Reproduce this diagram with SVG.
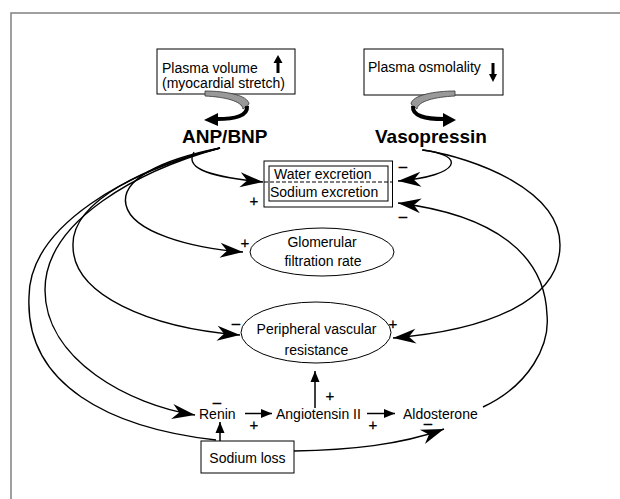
<svg xmlns="http://www.w3.org/2000/svg" width="620" height="499" viewBox="0 0 620 499">
<style>
text{font-family:"Liberation Sans",Arial,sans-serif;font-size:14px;fill:#000}
.b{font-weight:bold;font-size:19px}
.box{fill:#fff;stroke:#000;stroke-width:1}
.c{fill:none;stroke:#000;stroke-width:1.4}
.s{fill:none;stroke:#000;stroke-width:1.5}
.m{text-anchor:middle}
.g{font-size:15px;fill:#000;stroke:#000;stroke-width:0.3}
</style>
<defs>
<marker id="big" viewBox="-25 -9 27 18" markerWidth="27" markerHeight="18" refX="0" refY="0" orient="auto" markerUnits="userSpaceOnUse">
<path d="M0,0 L-23,-7.5 L-16,0 L-23,7.5 Z" fill="#000"/>
</marker>
<marker id="sm" viewBox="-12 -6 13 12" markerWidth="13" markerHeight="12" refX="0" refY="0" orient="auto" markerUnits="userSpaceOnUse">
<path d="M0,0 L-11,-4.5 L-11,4.5 Z" fill="#000"/>
</marker>
</defs>
<rect x="0" y="0" width="620" height="499" fill="#fff"/>
<rect x="11" y="13" width="700" height="600" fill="none" stroke="#808080" stroke-width="1.5"/>

<g id="plasma-volume">
<rect class="box" x="157" y="49" width="138" height="45"/>
<text x="162" y="72.5">Plasma volume</text>
<text x="162" y="87.5">(myocardial stretch)</text>
<rect x="276.5" y="62" width="3" height="11" fill="#000"/>
<path d="M273.5,63 L278,55 L282.5,63 Z" fill="#000"/>
</g>
<g id="plasma-osmolality">
<rect class="box" x="364" y="49" width="139" height="46"/>
<text x="368" y="72">Plasma osmolality</text>
<rect x="491.5" y="63" width="3" height="12" fill="#000"/>
<path d="M489,74 L497,74 L493,82 Z" fill="#000"/>
</g>
<g id="ribbon-left">
<path d="M205,91 C225,91 248,95 249,104 L243,109 C242,101 225,97 205,96 Z" fill="#999" stroke="#333" stroke-width="0.8"/>
<path d="M247,106 C248,116 235,119 217,119" fill="none" stroke="#000" stroke-width="4"/>
<path d="M218,113 L204,120 L218,126 Z" fill="#000"/>
</g>
<g id="ribbon-right">
<path d="M455,91 C435,91 412,95 411,104 L417,109 C418,101 435,97 455,96 Z" fill="#999" stroke="#333" stroke-width="0.8"/>
<path d="M413,106 C412,116 425,119 444,119" fill="none" stroke="#000" stroke-width="4"/>
<path d="M443,113 L456,120 L443,127 Z" fill="#000"/>
</g>
<g id="anp-bnp"><text class="b" x="182" y="143">ANP/BNP</text></g>
<g id="vasopressin"><text class="b" x="375" y="142.5">Vasopressin</text></g>
<g id="excretion">
<rect class="box" x="264" y="161" width="128.5" height="46"/>
<rect class="box" x="269" y="166" width="119" height="35" fill="none"/>
<line x1="264" y1="182" x2="392.5" y2="182" stroke="#000" stroke-width="1" stroke-dasharray="4,2"/>
<text x="274" y="179">Water excretion</text>
<text x="270" y="197">Sodium excretion</text>
</g>
<g id="gfr">
<ellipse class="box" cx="322" cy="252" rx="72" ry="24"/>
<text class="m" x="322" y="247">Glomerular</text>
<text class="m" x="323" y="266">filtration rate</text>
</g>
<g id="pvr">
<ellipse class="box" cx="316" cy="332.5" rx="75" ry="30.5"/>
<text class="m" x="316.5" y="334">Peripheral vascular</text>
<text class="m" x="316.5" y="355">resistance</text>
</g>
<g id="renin"><text x="199" y="419">Renin</text></g>
<g id="angiotensin"><text x="276" y="419">Angiotensin II</text></g>
<g id="aldosterone"><text x="403" y="419">Aldosterone</text></g>
<g id="sodium-loss">
<rect class="box" x="201" y="441" width="93" height="32"/>
<text class="m" x="247.5" y="463">Sodium loss</text>
</g>

<g id="connectors">
<path class="c" marker-end="url(#big)" d="M194,152 C186,166 200,176 263,182"/>
<path class="c" marker-end="url(#big)" d="M220,148 C160,160 120,180 126,205 C132,232 190,248 243,252"/>
<path class="c" marker-end="url(#big)" d="M220,148 C150,165 72,200 73,245 C72,295 150,328 240,335"/>
<path class="c" marker-end="url(#big)" d="M220,148 C140,170 45,220 45,290 C45,360 130,405 195,415"/>
<path class="c" d="M220,148 C130,170 29,225 29,297 C25,385 110,428 216,440"/>
<path class="c" marker-end="url(#big)" d="M422,150 C468,155 460,176 398,181"/>
<path class="c" marker-end="url(#big)" d="M423,150 C475,158 560,190 560,245 C560,300 490,330 393,338"/>
<path class="c" marker-end="url(#big)" d="M483,407 C530,385 550,345 547,315 C545,255 495,215 398,203"/>
<path class="c" marker-end="url(#big)" d="M294,451 C350,450 400,445 444,429"/>
<path class="s" marker-end="url(#sm)" d="M245,413.5 L272,413.5"/>
<path class="s" marker-end="url(#sm)" d="M367,413.5 L395,413.5"/>
<path class="s" marker-end="url(#sm)" d="M315,408 L315,371"/>
<path class="s" marker-end="url(#sm)" d="M220,441 L220,422"/>
</g>

<g id="signs">
<text class="m g" x="254" y="206">+</text>
<text class="m g" x="403" y="171">–</text>
<text class="m g" x="403" y="221">–</text>
<text class="m g" x="245" y="247.5">+</text>
<text class="m g" x="236" y="327.5">–</text>
<text class="m g" x="393" y="329">+</text>
<text class="m g" x="330" y="400.5">+</text>
<text class="m g" x="254" y="429.5">+</text>
<text class="m g" x="373" y="429.5">+</text>
<text class="m g" x="217" y="407">–</text>
<text class="m g" x="428" y="428">–</text>
</g>
</svg>
